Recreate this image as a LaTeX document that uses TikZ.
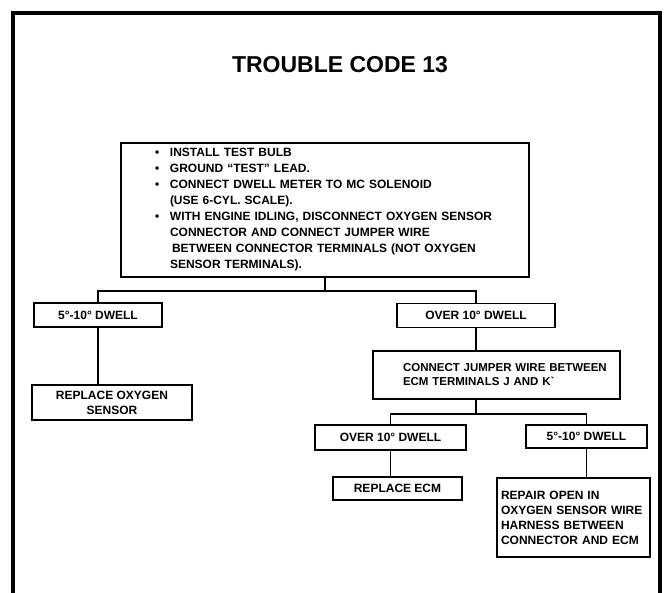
\documentclass[tikz,border=0pt]{standalone}
\usepackage{fontspec}
\setmainfont{Liberation Sans}
\begin{document}
\begin{tikzpicture}[x=1pt,y=-1pt,
  box/.style={draw, line width=1.9pt, inner sep=0pt, align=center,
    font=\bfseries\fontsize{12}{15}\selectfont},
  link/.style={line width=1.9pt},
  frame/.style={line width=4pt}]
\useasboundingbox (0,0) rectangle (665,593);
\draw[frame] (13,593) -- (13,13) -- (659.5,13) -- (659.5,593);
\node[font=\bfseries\fontsize{23}{23}\selectfont] (title) at (340,65) {TROUBLE CODE 13};
\node[box, minimum width=408pt, minimum height=134pt, text width=340pt, align=left,
  font=\bfseries\fontsize{12}{16}\selectfont] (main) at (325,210) {%
\makebox[15pt][l]{\textbullet}INSTALL TEST BULB\\
\makebox[15pt][l]{\textbullet}GROUND ``TEST'' LEAD.\\
\makebox[15pt][l]{\textbullet}CONNECT DWELL METER TO MC SOLENOID\\
\hspace*{15pt}(USE 6-CYL. SCALE).\\
\makebox[15pt][l]{\textbullet}WITH ENGINE IDLING, DISCONNECT OXYGEN SENSOR\\
\hspace*{15pt}CONNECTOR AND CONNECT JUMPER WIRE\\
\hspace*{17pt}BETWEEN CONNECTOR TERMINALS (NOT OXYGEN\\
\hspace*{15pt}SENSOR TERMINALS).};
\node[box, minimum width=128pt, minimum height=24pt] (d1) at (98,315) {5°-10° DWELL};
\node[box, minimum width=160pt, minimum height=35pt] (r1) at (112,402.5) {REPLACE OXYGEN\\SENSOR};
\node[box, minimum width=158pt, minimum height=24pt] (d2) at (476,315.5) {OVER 10° DWELL};
\node[box, minimum width=247pt, minimum height=48pt, text width=247pt, align=left,
  font=\bfseries\fontsize{11.5}{14}\selectfont] (j) at (496.5,375)
  {\hspace*{30pt}CONNECT JUMPER WIRE BETWEEN\\\hspace*{30pt}ECM TERMINALS J AND K\textasciigrave};
\node[box, minimum width=151pt, minimum height=25pt] (d3) at (390.5,437.5) {OVER 10° DWELL};
\node[box, minimum width=121pt, minimum height=23pt] (d4) at (586.5,436.5) {5°-10° DWELL};
\node[box, minimum width=129pt, minimum height=23pt] (e) at (397.5,488.5) {REPLACE ECM};
\node[box, minimum width=153pt, minimum height=79pt, text width=145pt, align=left] (rp) at (573.5,517.5)
  {REPAIR OPEN IN\\OXYGEN SENSOR WIRE\\HARNESS BETWEEN\\CONNECTOR AND ECM};
\draw[link] (main.south) -- ++(0,13) coordinate (hub1);
\draw[link] (d1.north) |- (hub1) -| (d2.north);
\draw[link] (d1.south) -- (d1.south |- r1.north);
\draw[link] (d2.south) -- (d2.south |- j.north);
\draw[link] (d2.south |- j.south) -- ++(0,14) coordinate (hub2);
\draw[link] (d3.north) |- (hub2) -| (d4.north);
\draw[link] (d3.south) -- (d3.south |- e.north);
\draw[link] (d4.south) -- (d4.south |- rp.north);
\end{tikzpicture}
\end{document}
